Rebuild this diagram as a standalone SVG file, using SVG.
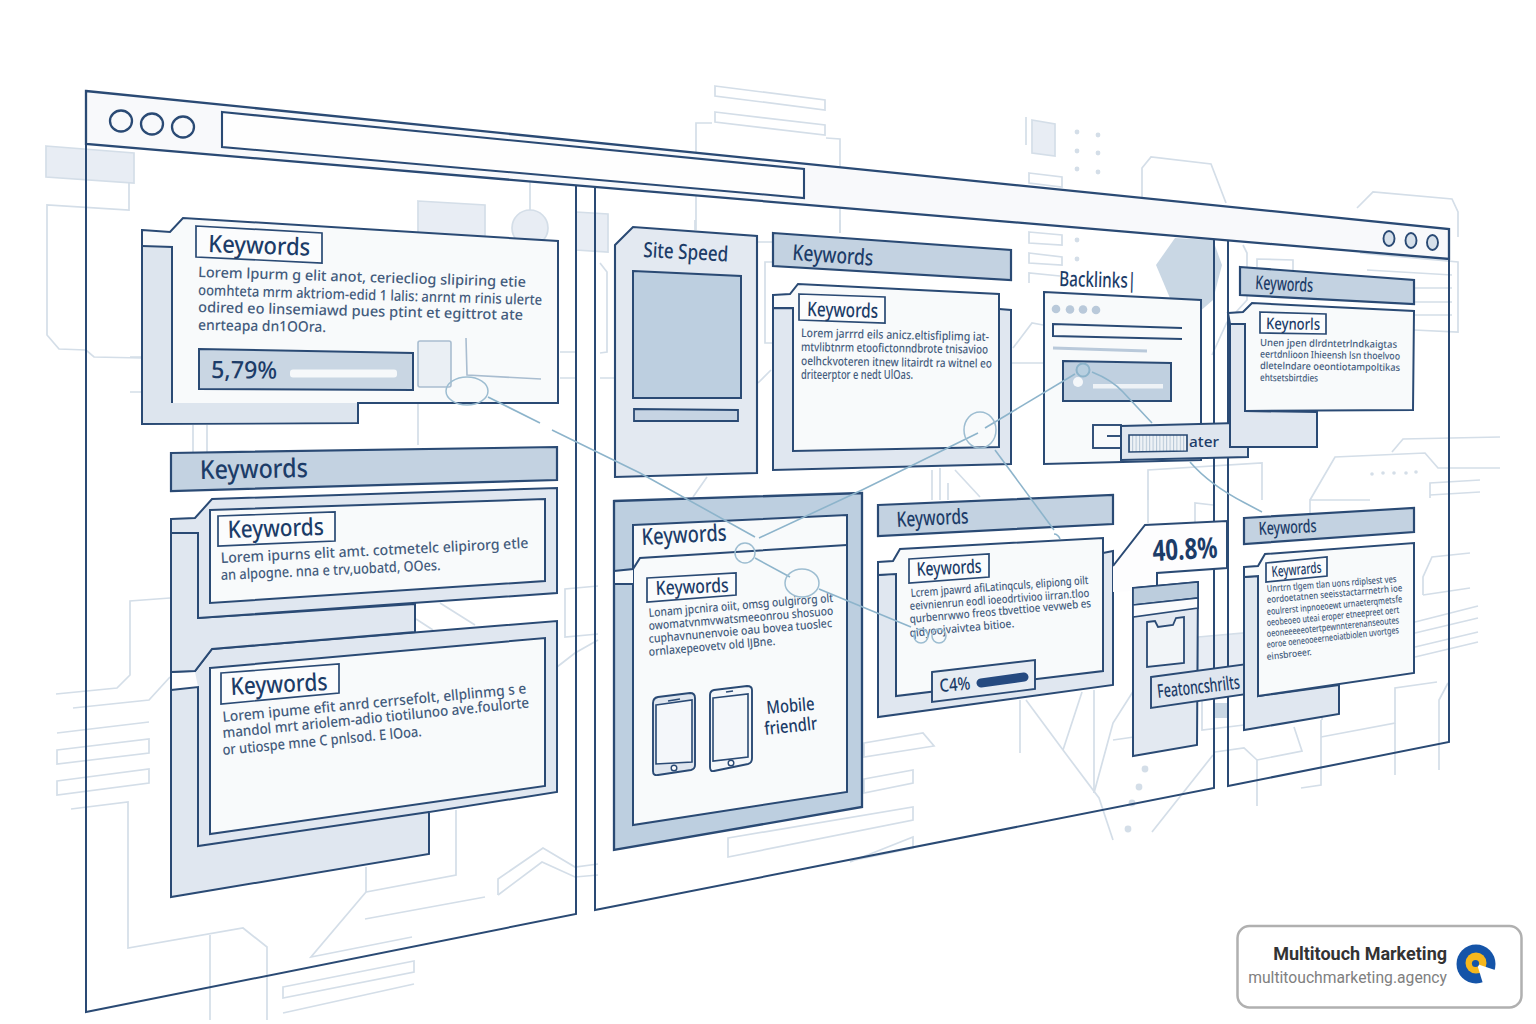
<svg xmlns="http://www.w3.org/2000/svg" width="1536" height="1024" viewBox="0 0 1536 1024">
<defs>
<style>
.bg{fill:none;stroke:#d4dee8;stroke-width:1.7}
.bgf{fill:#e8edf4;stroke:#d4dee8;stroke-width:1.7}
.bgd{fill:#d4dee8}
.ln{fill:none;stroke:#2a4a74;stroke-width:2;stroke-linejoin:miter}
.back{fill:#e0e7f0;stroke:#2a4a74;stroke-width:2}
.face{fill:#f8fafb;stroke:#2a4a74;stroke-width:2}
.hdr{fill:#c3d2e1;stroke:#2a4a74;stroke-width:2.2}
.box{fill:#fbfcfd;stroke:#2a4a74;stroke-width:1.7}
.conn{fill:none;stroke:#8db4cb;stroke-width:1.6}
.blob{fill:none;stroke:#9dbdd1;stroke-width:1.5}
.dot{fill:#b9c9da}
text{font-family:"Noto Sans","Open Sans","DejaVu Sans",sans-serif;fill:#1c3c68}
.k{font-weight:500}
.b{fill:#445c7d;font-weight:500}
</style>
<pattern id="hatch" width="3.4" height="8" patternUnits="userSpaceOnUse"><rect width="3.4" height="8" fill="#eef2f6"/><rect width="1" height="8" fill="#b5c6d6"/></pattern>
</defs>
<rect width="1536" height="1024" fill="#ffffff"/>

<g id="background">
<polygon class="bgf" points="46,146 134,153 134,183 46,177"/>
<polyline class="bg" points="129,183 129,210 47,205 47,335 59,349 86,350 94,357 142,358"/>
<polygon class="bgf" points="418,201 485,205 485,240 418,240"/>
<path class="bg" d="M530,182V210"/><circle class="bgf" cx="530" cy="228" r="18"/>
<polygon class="bgf" points="576,212 608,214 608,252 576,250"/>
<path class="bg" d="M130,357H142M130,392H142M193,425V453M207,425V452M418,403V445M560,352H576M560,378H576"/>
<polyline class="bg" points="170,598 130,601 130,675 117,688 56,694"/>
<polyline class="bg" points="170,677 149,700 73,708"/>
<path class="bg" d="M149,722 57,733"/>
<polygon class="bg" points="57,750 149,739 149,753 57,764"/>
<polygon class="bg" points="57,781 149,769 149,783 57,795"/>
<polyline class="bg" points="71,809 128,802 128,948 243,928 267,947 267,1020"/>
<path class="bg" d="M210,935V1020"/>
<polyline class="bg" points="456,810 456,875 366,892 366,867"/>
<polyline class="bg" points="366,892 311,957 412,937"/>
<path class="bg" d="M365,919 485,897"/>
<polygon class="bg" points="283,987 414,961 414,972 283,998"/>
<path class="bg" d="M283,1013 414,984"/>
<polyline class="bg" points="498,895 498,879 543,848 575,867 598,864"/>
<polyline class="bg" points="498,895 542,862 575,877 598,875"/>
<polyline class="bg" points="598,586 565,589 565,637 598,634"/>
<polyline class="bg" points="557,667 575,653 598,640"/>
<path class="bg" d="M440,603 475,625M416,619 433,630"/>
<polygon class="bg" points="715,86 825,100 825,110 715,96"/>
<polygon class="bg" points="715,112 825,125 825,135 715,122"/>
<polyline class="bg" points="712,123 696,123 696,230"/>
<polyline class="bg" points="826,138 840,139 840,233"/>
<polygon class="bgf" points="1032,120 1055,124 1055,156 1032,153"/>
<path class="bg" d="M1026,117V145"/>
<circle class="bgd" cx="1077" cy="132" r="2.4"/><circle class="bgd" cx="1098" cy="135" r="2.4"/><circle class="bgd" cx="1077" cy="151" r="2.4"/><circle class="bgd" cx="1098" cy="153" r="2.4"/><circle class="bgd" cx="1077" cy="169" r="2.4"/><circle class="bgd" cx="1098" cy="172" r="2.4"/><circle class="bgd" cx="1077" cy="240" r="2.4"/><circle class="bgd" cx="1077" cy="259" r="2.4"/>
<polygon class="bg" points="1029,173 1062,177 1062,187 1029,183"/>
<polygon class="bg" points="1029,232 1062,235 1062,245 1029,243"/>
<polygon class="bg" points="1029,253 1062,257 1062,265 1029,263"/>
<polyline class="bg" points="1029,283 1029,273 1060,276"/>
<polyline class="bg" points="1142,233 1142,168 1151,157 1211,164 1226,203"/>
<polygon fill="#c9d7e4" points="1156,265 1175,238 1213,240 1222,265 1213,300 1198,313 1175,310"/>
<polyline class="bg" points="1357,208 1373,192 1452,199 1458,212 1458,237"/>
<polyline class="bg" points="1360,253 1458,262 1458,332 1414,330"/>
<path class="bg" d="M1367,270 1452,275M1414,288H1452M1414,302H1452M1414,315H1452"/>
<polyline class="bg" points="1227,322 1212,355"/>
<polyline class="bg" points="1257,267 1257,259 1293,260 1293,270"/>
<polyline class="bg" points="1243,245 1247,253 1247,300 1227,322"/>
<polyline class="bg" points="600,263 607,272 607,352 600,353"/>
<path class="bg" d="M600,378H615M757,242H773M707,477 693,497M758,383 771,370M840,220V233M695,220V230M932,470V500M940,468V500M948,483V500M955,470 980,497M1012,363H1043"/>
<polyline class="bg" points="773,262 765,262 765,343 773,343"/>
<polyline class="bg" points="1013,348 1032,323 1043,325"/>
<polygon class="bg" points="864,743 923,733 934,746 864,757"/>
<polygon class="bg" points="864,779 913,770 913,783 864,793"/>
<polygon class="bg" points="728,838 913,807 913,820 728,857"/>
<polyline class="bg" points="850,862 913,837 913,848 855,860"/>
<path class="bg" d="M1026,700 1063,750 1099,798 1113,840M1020,700V753M1082,692 1063,750M1094,690V793M1113,740 1134,737M1213,755 1152,832"/>
<polyline class="bg" points="1134,690 1113,723 1094,793"/>
<circle class="bgd" cx="1145" cy="769" r="3.4"/><circle class="bgd" cx="1139" cy="787" r="3.4"/><circle class="bgd" cx="1132" cy="803" r="3.4"/><circle class="bgd" cx="1128" cy="829" r="3.4"/>
<polyline class="bg" points="1215,752 1244,748 1257,760 1257,806"/>
<polyline class="bg" points="1257,760 1302,751 1294,727"/>
<polygon class="bgf" points="1198,637 1244,633 1244,668 1198,680"/>
<polyline class="bg" points="1202,680 1202,730 1244,725"/>
<rect x="1213" y="703" width="14" height="15" fill="#c9d7e4"/>
<polyline class="bg" points="1301,788 1321,785 1321,720"/>
<polyline class="bg" points="1321,737 1395,723 1395,688 1437,682"/>
<path class="bg" d="M1395,723V775M1322,687V720"/>
<polyline class="bg" points="1439,770 1439,700 1448,683"/>
<polyline class="bg" points="1195,522 1195,503 1213,505"/>
<path class="bg" d="M1148,490V523"/>
<polyline class="bg" points="1148,500 1148,470 1262,463 1262,500"/>
<polyline class="bg" points="1310,500 1335,457 1425,453 1438,468 1500,468"/>
<polyline class="bg" points="1392,452 1403,439 1500,437"/>
<polyline class="bg" points="1310,540 1310,500 1370,500"/>
<polyline class="bg" points="1430,498 1430,483 1480,480"/>
<path class="bg" d="M1430,495 1480,492"/>
<circle class="bgd" cx="1372" cy="474" r="1.8"/><circle class="bgd" cx="1383" cy="473" r="1.8"/><circle class="bgd" cx="1394" cy="473" r="1.8"/><circle class="bgd" cx="1406" cy="473" r="1.8"/><circle class="bgd" cx="1416" cy="472" r="1.8"/>
<polyline class="bg" points="1423,595 1423,577 1432,557 1470,553"/>
<path class="bg" d="M1423,595 1470,588M1415,622 1478,606M1415,633 1478,618M1415,647 1478,632M1415,657 1478,642"/>
</g>

<g id="browser-window">
<polygon fill="#f8f9fb" stroke="#2a4a74" stroke-width="2.3" points="86,91 1449,229 1449,259 86,144"/>
<polygon fill="#fefefe" stroke="#2a4a74" stroke-width="2.1" points="222,112 804,169 804,198 222,147"/>
<ellipse cx="121" cy="121" rx="11" ry="10.5" fill="none" stroke="#2a4a74" stroke-width="2.3"/>
<ellipse cx="152" cy="124" rx="11" ry="10.5" fill="none" stroke="#2a4a74" stroke-width="2.3"/>
<ellipse cx="183" cy="127" rx="11" ry="10.5" fill="none" stroke="#2a4a74" stroke-width="2.3"/>
<ellipse cx="1389" cy="238.500" rx="5.500" ry="7.500" fill="#d6e0ea" stroke="#2a4a74" stroke-width="1.900"/>
<ellipse cx="1411" cy="240.500" rx="5.500" ry="7.500" fill="#d6e0ea" stroke="#2a4a74" stroke-width="1.900"/>
<ellipse cx="1432.500" cy="242.500" rx="5.500" ry="7.500" fill="#d6e0ea" stroke="#2a4a74" stroke-width="1.900"/>
<polyline class="ln" points="86,144 86,1012 576,914 576,185"/>
<polyline class="ln" points="595,186 595,910 1214,788 1214,239"/>
<polyline class="ln" points="1228,240 1228,786 1449,742 1449,229"/>
</g>

<g id="card-left-1">
<polygon class="face" points="142,230 170,232 183,218 558,241 558,403 358,403 358,423 142,424"/>
<polygon fill="#dde5ee" points="143,247 172,248 172,403 357,403 357,422 143,423"/>
<polyline class="ln" points="142,246 172,247 172,403"/>
<polygon class="box" points="196,226 322,233 322,263 196,257"/>
<text class="k" transform="translate(208,252) rotate(2)" font-size="24" textLength="102" lengthAdjust="spacingAndGlyphs">Keywords</text>
<text class="b" transform="translate(198,277) rotate(1.75)" font-size="14.500" textLength="328" lengthAdjust="spacingAndGlyphs">Lorem lpurm g elit anot, ceriecliog slipiring etie</text>
<text class="b" transform="translate(198,295) rotate(1.66)" font-size="14.500" textLength="344" lengthAdjust="spacingAndGlyphs">oomhteta mrm aktriom-edid 1 lalis: anrnt m rinis ulerte</text>
<text class="b" transform="translate(198,312) rotate(1.4)" font-size="14.500" textLength="325" lengthAdjust="spacingAndGlyphs">odired eo linsemiawd pues ptint et egittrot ate</text>
<text class="b" transform="translate(198,330) rotate(.9)" font-size="14.500" textLength="128" lengthAdjust="spacingAndGlyphs">enrteapa dn1OOra.</text>
<polygon fill="#c9d6e3" stroke="#2a4a74" stroke-width="2" points="199,349 413,353 413,390 199,389"/>
<text class="k" transform="translate(211,378) rotate(.5)" font-size="24" textLength="66" lengthAdjust="spacingAndGlyphs">5,79%</text>
<rect x="290" y="369.500" width="107" height="8" rx="3" fill="#f6f8fa"/>
<rect x="418" y="341" width="33" height="46" rx="2" fill="#eaeff4" stroke="#a9bdd0" stroke-width="1.600"/>
<polyline fill="none" stroke="#a9bdd0" stroke-width="1.600" points="466,338 467,375 541,379"/>
</g>

<g id="panel-left-header">
<polygon class="hdr" points="171,453 557,447 557,480 171,491"/>
<text class="k" transform="translate(200,479) rotate(-1)" font-size="26" textLength="108" lengthAdjust="spacingAndGlyphs">Keywords</text>
</g>

<g id="card-left-3">
<polygon class="back" points="171,672 195,671 212,649 557,621 557,792 429,812 429,854 171,897"/>
<polygon fill="#fdfdfe" points="172,673 195,672 198,687 172,690"/>
<polyline class="ln" points="171,690 198,687 198,846 429,812"/>
<polygon class="face" points="210,668 545,638 545,786 210,834"/>
<polygon class="box" points="221,673 339,664 339,693 221,704"/>
<text class="k" transform="translate(231,695) rotate(-3)" font-size="24" textLength="97" lengthAdjust="spacingAndGlyphs">Keywords</text>
<text class="b" transform="translate(223,722) rotate(-5.4)" font-size="14.500" textLength="305" lengthAdjust="spacingAndGlyphs">Lorem ipume efit anrd cerrsefolt, ellplinmg s e</text>
<text class="b" transform="translate(223,738) rotate(-5.7)" font-size="14.500" textLength="308" lengthAdjust="spacingAndGlyphs">mandol mrt ariolem-adio tiotilunoo ave.foulorte</text>
<text class="b" transform="translate(223,755) rotate(-5.4)" font-size="14.500" textLength="200" lengthAdjust="spacingAndGlyphs">or utiospe mne C pnlsod. E lOoa.</text>
</g>

<g id="card-left-2">
<polygon fill="#e0e7f0" stroke="#2a4a74" stroke-width="2" points="171,533 198,533 198,618 415,604 415,632 212,649 195,671 171,672"/>
<polygon class="back" points="171,519 195,518 212,499 557,488 557,593 198,618 198,533 171,533"/>
<polygon class="face" points="210,510 545,499 545,581 210,603"/>
<polygon class="box" points="218,516 335,512 335,541 218,546"/>
<text class="k" transform="translate(228,538) rotate(-1.8)" font-size="24" textLength="96" lengthAdjust="spacingAndGlyphs">Keywords</text>
<text class="b" transform="translate(221,563) rotate(-2.8)" font-size="14.500" textLength="308" lengthAdjust="spacingAndGlyphs">Lorem ipurns elit amt. cotmetelc elipirorg etle</text>
<text class="b" transform="translate(221,580) rotate(-2.6)" font-size="14.500" textLength="220" lengthAdjust="spacingAndGlyphs">an alpogne. nna e trv,uobatd, OOes.</text>
</g>

<g id="card-site-speed">
<polygon fill="#e3e9f1" stroke="#2a4a74" stroke-width="2.100" points="615,245 633,227 757,236 757,473 615,477"/>
<text class="k" transform="translate(643,257) rotate(3)" font-size="21" textLength="85" lengthAdjust="spacingAndGlyphs">Site Speed</text>
<polygon fill="#bdcfe0" stroke="#2a4a74" stroke-width="2" points="633,271 741,276 741,398 633,398"/>
<polygon fill="#c6d4e3" stroke="#2a4a74" stroke-width="1.800" points="634,409 738,410 738,421 634,421"/>
</g>

<g id="header-keywords-2">
<polygon class="hdr" points="773,233 1011,250 1011,280 773,266"/>
<text class="k" transform="translate(792,260) rotate(4)" font-size="22" textLength="81" lengthAdjust="spacingAndGlyphs">Keywords</text>
</g>

<g id="card-keywords-2">
<polygon class="back" points="773,308 999,309 1011,310 1011,464 773,470"/>
<polygon class="face" points="773,295 790,294 798,284 999,294 999,447 793,451 793,308 773,308"/>
<polygon class="box" points="799,294 885,297 885,323 799,320"/>
<text class="k" transform="translate(807,316) rotate(1.5)" font-size="20" textLength="71" lengthAdjust="spacingAndGlyphs">Keywords</text>
<text class="b" transform="translate(801,337) rotate(1.2)" font-size="12" textLength="188" lengthAdjust="spacingAndGlyphs">Lorem jarrrd eils anicz.eltisfiplimg iat-</text>
<text class="b" transform="translate(801,351) rotate(.8)" font-size="12" textLength="187" lengthAdjust="spacingAndGlyphs">mtvlibtnrm etoofictonndbrote tnisavioo</text>
<text class="b" transform="translate(801,365) rotate(.8)" font-size="12" textLength="191" lengthAdjust="spacingAndGlyphs">oelhckvoteren itnew litairdt ra witnel eo</text>
<text class="b" transform="translate(801,379)" font-size="12" textLength="112" lengthAdjust="spacingAndGlyphs">driteerptor e nedt UlOas.</text>
</g>

<g id="card-backlinks">
<text class="k" transform="translate(1059,286) rotate(1.5)" font-size="21" textLength="77" lengthAdjust="spacingAndGlyphs">Backlinks|</text>
<polygon class="face" points="1044,292 1201,300 1201,460 1044,464"/>
<circle class="dot" cx="1056" cy="309" r="4.300"/><circle class="dot" cx="1070" cy="309.500" r="4.300"/><circle class="dot" cx="1083" cy="309.500" r="4.300"/><circle class="dot" cx="1096" cy="310" r="4.300"/>
<polyline class="ln" stroke-width="1.800" points="1182,328 1053,324 1053,336 1182,339"/>
<path d="M1053,348 1147,351" stroke="#b9c9da" stroke-width="3" fill="none"/>
<polygon fill="#c0d0e0" stroke="#2a4a74" stroke-width="2" points="1063,361 1171,363 1171,401 1063,401"/>
<rect x="1093" y="384" width="70" height="4.500" fill="#eef2f6"/>
<circle cx="1078" cy="382" r="5" fill="#f4f7fa"/>
<rect x="1093" y="425" width="28" height="23" fill="#f8fafb" stroke="#2a4a74" stroke-width="1.900"/>
<path d="M1107,436H1121" stroke="#2a4a74" stroke-width="1.900"/>
<polygon fill="#dfe6ef" stroke="#2a4a74" stroke-width="2" points="1121,426 1237,423 1237,437 1248,437 1248,457 1121,460"/>
<rect x="1237" y="437" width="11" height="10" fill="#f8fafb" stroke="#2a4a74" stroke-width="1.700"/>
<polygon fill="url(#hatch)" stroke="#2a4a74" stroke-width="1.700" points="1129,435 1187,435 1187,451 1129,452"/>
<text class="k" transform="translate(1189,447)" font-size="15" textLength="30" lengthAdjust="spacingAndGlyphs">ater</text>
</g>

<g id="header-keywords-right">
<polygon class="hdr" points="1240,267 1414,280 1414,304 1240,295"/>
<text class="k" transform="translate(1255,289) rotate(3)" font-size="19" textLength="58" lengthAdjust="spacingAndGlyphs">Keywords</text>
</g>

<g id="card-keywords-right">
<polygon class="back" points="1230,324 1245,324 1245,411 1317,412 1317,447 1230,447"/>
<polygon class="face" points="1228,313 1243,312 1252,303 1414,311 1413,410 1245,411 1245,324 1230,324"/>
<polygon class="box" points="1260,312 1326,314 1326,334 1260,333"/>
<text class="k" transform="translate(1266,329) rotate(1)" font-size="16" textLength="54" lengthAdjust="spacingAndGlyphs">Keynorls</text>
<text class="b" transform="translate(1260,346) rotate(.8)" font-size="10" textLength="137" lengthAdjust="spacingAndGlyphs">Unen jpen dlrdntetrlndkaigtas</text>
<text class="b" transform="translate(1260,357.500) rotate(.8)" font-size="10" textLength="140" lengthAdjust="spacingAndGlyphs">eertdnlioon Ihieensh lsn thoelvoo</text>
<text class="b" transform="translate(1260,369) rotate(.8)" font-size="10" textLength="140" lengthAdjust="spacingAndGlyphs">dletelndare oeontiotampoltikas</text>
<text class="b" transform="translate(1260,381) rotate(.6)" font-size="10" textLength="58" lengthAdjust="spacingAndGlyphs">ehtsetsbirtdies</text>
</g>

<g id="card-mobile">
<polygon fill="#bdcfe0" stroke="#2a4a74" stroke-width="2.300" points="614,501 862,493 862,807 614,850"/>
<polygon class="face" points="633,525 847,515 847,792 633,825"/>
<polygon fill="#f8fafb" points="615,571 633,570 633,583 615,583"/>
<polyline class="ln" points="614,571 633,569 640,558 847,545"/>
<path class="ln" d="M614,584H633"/>
<text class="k" transform="translate(642,545) rotate(-3)" font-size="23" textLength="85" lengthAdjust="spacingAndGlyphs">Keywords</text>
<polygon class="box" points="647,578 736,573 736,595 647,602"/>
<text class="k" transform="translate(656,595) rotate(-2.5)" font-size="19.500" textLength="73" lengthAdjust="spacingAndGlyphs">Keywords</text>
<text class="b" transform="translate(649,617) rotate(-4.7)" font-size="12" textLength="185" lengthAdjust="spacingAndGlyphs">Lonam jpcnira oiit, omsg oulgirorg olt</text>
<text class="b" transform="translate(649,630) rotate(-4.7)" font-size="12" textLength="185" lengthAdjust="spacingAndGlyphs">owomatvnmvwatsmeeonrou shosuoo</text>
<text class="b" transform="translate(649,643) rotate(-5)" font-size="12" textLength="184" lengthAdjust="spacingAndGlyphs">cuphavnunenvoie oau bovea tuoslec</text>
<text class="b" transform="translate(649,656) rotate(-5)" font-size="12" textLength="127" lengthAdjust="spacingAndGlyphs">ornlaxepeovetv old lJBne.</text>
<g id="phone-1">
<path d="M653,703Q653,698 658,697L690,693Q695,693 695,698V765Q695,769 691,770L658,775Q653,776 653,771Z" fill="#dfe6ef" stroke="#2a4a74" stroke-width="1.900"/>
<polygon fill="#f4f7fa" stroke="#2a4a74" stroke-width="1.600" points="656,705 692,700 692,762 656,764"/>
<path d="M668,701 680,699" stroke="#2a4a74" stroke-width="1.700"/>
<circle cx="674" cy="768" r="2.800" fill="#fff" stroke="#2a4a74" stroke-width="1.400"/>
</g>
<g id="phone-2">
<path d="M710,695Q710,691 714,690L747,686Q752,686 752,690V758Q752,763 748,764L714,771Q710,772 710,767Z" fill="#f4f7fa" stroke="#2a4a74" stroke-width="1.900"/>
<polygon fill="#f4f7fa" stroke="#2a4a74" stroke-width="1.600" points="713,698 748,694 748,757 713,761"/>
<path d="M726,692 733,691" stroke="#2a4a74" stroke-width="1.700"/>
<circle cx="731" cy="763" r="2.800" fill="#fff" stroke="#2a4a74" stroke-width="1.400"/>
</g>
<text class="k" transform="translate(767,714) rotate(-5)" font-size="18" textLength="48" lengthAdjust="spacingAndGlyphs">Mobile</text>
<text class="k" transform="translate(765,735) rotate(-6)" font-size="18" textLength="53" lengthAdjust="spacingAndGlyphs">friendlr</text>
</g>

<g id="header-keywords-3">
<polygon class="hdr" points="878,505 1113,495 1113,524 878,536"/>
<text class="k" transform="translate(897,527) rotate(-3)" font-size="21" textLength="72" lengthAdjust="spacingAndGlyphs">Keywords</text>
</g>

<g id="card-keywords-3">
<polygon class="back" points="878,575 1103,553 1113,551 1113,685 878,717"/>
<polygon class="face" points="878,562 893,561 900,549 1103,538 1103,671 896,696 896,574 878,575"/>
<polygon class="box" points="909,559 989,554 989,577 909,583"/>
<text class="k" transform="translate(917,576) rotate(-3)" font-size="19" textLength="65" lengthAdjust="spacingAndGlyphs">Keywords</text>
<text class="b" transform="translate(911,597) rotate(-4.2)" font-size="11.500" textLength="178" lengthAdjust="spacingAndGlyphs">Lcrem jpawrd afiLatinqculs, elipiong oilt</text>
<text class="b" transform="translate(910,610) rotate(-4.2)" font-size="11.500" textLength="180" lengthAdjust="spacingAndGlyphs">eeivnienrun eodl ioeodrtivioo iirran.tloo</text>
<text class="b" transform="translate(910,623) rotate(-5)" font-size="11.500" textLength="182" lengthAdjust="spacingAndGlyphs">qurbenrwwo freos tbvettioe vevweb es</text>
<text class="b" transform="translate(910,637) rotate(-5.4)" font-size="11.500" textLength="105" lengthAdjust="spacingAndGlyphs">qidyoojvaivtea bitioe.</text>
<polygon fill="#e6ecf3" stroke="#2a4a74" stroke-width="1.900" points="932,672 1035,660 1035,689 932,702"/>
<text class="k" transform="translate(940,692) rotate(-5)" font-size="18" textLength="31" lengthAdjust="spacingAndGlyphs">C4%</text>
<path d="M981,683 1024,677" stroke="#254a80" stroke-width="9" stroke-linecap="round" fill="none"/>
</g>

<g id="card-features">
<polygon fill="#fdfdfe" points="1113,566 1145,525 1227,521 1227,568 1157,573 1157,590 1113,592"/>
<polyline class="ln" points="1113,566 1145,525 1227,521 1227,568 1157,573 1157,586"/>
<text transform="translate(1153,561) rotate(-3)" font-size="29" font-weight="700" textLength="65" lengthAdjust="spacingAndGlyphs">40.8%</text>
<polygon fill="#e3e9f1" stroke="#2a4a74" stroke-width="2" points="1133,588 1198,582 1197,745 1133,756"/>
<polygon fill="#bccddd" stroke="#2a4a74" stroke-width="1.700" points="1133,588 1198,582 1198,598 1133,605"/>
<polygon fill="#fafbfc" stroke="#2a4a74" stroke-width="1.700" points="1133,605 1198,598 1198,608 1133,617"/>
<polygon fill="#f2f5f8" stroke="#2a4a74" stroke-width="1.800" points="1147,622 1155,621 1158,627 1173,625 1176,618 1184,617 1184,663 1147,667"/>
<polygon fill="#dfe6ef" stroke="#2a4a74" stroke-width="1.900" points="1151,677 1247,664 1247,694 1151,708"/>
<text class="k" transform="translate(1158,698) rotate(-6.5)" font-size="19" textLength="83" lengthAdjust="spacingAndGlyphs">Featoncshrilts</text>
</g>

<g id="header-keywords-4">
<polygon class="hdr" points="1244,518 1414,508 1414,532 1244,544"/>
<text class="k" transform="translate(1259,535) rotate(-3)" font-size="18" textLength="58" lengthAdjust="spacingAndGlyphs">Keywords</text>
</g>

<g id="card-keywords-4">
<polygon class="back" points="1244,577 1258,576 1258,696 1339,685 1339,714 1244,730"/>
<polygon class="face" points="1244,567 1258,566 1265,554 1414,543 1414,673 1258,696 1258,576 1244,577"/>
<polygon class="box" points="1266,563 1327,557 1327,576 1266,582"/>
<text class="k" transform="translate(1272,577) rotate(-5)" font-size="15" textLength="50" lengthAdjust="spacingAndGlyphs">Keywrards</text>
<text class="b" transform="translate(1267,592) rotate(-4.4)" font-size="9.500" textLength="130" lengthAdjust="spacingAndGlyphs">Unrtrn tlgem tlan uons rdiplsest ves</text>
<text class="b" transform="translate(1267,603) rotate(-5)" font-size="9.500" textLength="136" lengthAdjust="spacingAndGlyphs">eordoetatnen seeisstactarrnetrh ioe</text>
<text class="b" transform="translate(1267,615) rotate(-5.4)" font-size="9.500" textLength="136" lengthAdjust="spacingAndGlyphs">eoulrerst inpnoeoewt urnaeterqmetsfe</text>
<text class="b" transform="translate(1267,626) rotate(-5.6)" font-size="9.500" textLength="133" lengthAdjust="spacingAndGlyphs">oeobeoeo uteai eroper etneepreet oert</text>
<text class="b" transform="translate(1267,637) rotate(-5.9)" font-size="9.500" textLength="133" lengthAdjust="spacingAndGlyphs">oeoneeeeeotertpewnnterenanseoutes</text>
<text class="b" transform="translate(1267,648) rotate(-6.4)" font-size="9.500" textLength="133" lengthAdjust="spacingAndGlyphs">eoroe oeneooeerneoiatbiolen uvortges</text>
<text class="b" transform="translate(1267,660) rotate(-6.4)" font-size="9.500" textLength="45" lengthAdjust="spacingAndGlyphs">einsbroeer.</text>
</g>

<g id="connectors">
<ellipse class="blob" cx="467" cy="391" rx="21" ry="14"/>
<polyline class="conn" points="488,397 540,423"/>
<polyline class="conn" points="552,430 640,473 755,537"/>
<polyline class="conn" points="759,538 862,490 978,433"/>
<polyline class="conn" points="985,428 1075,374"/>
<ellipse class="blob" cx="980" cy="430" rx="16" ry="18"/>
<polyline class="conn" points="995,450 1054,530"/>
<path class="conn" d="M1054,534Q1058,534 1060,539"/>
<path class="conn" d="M1092,372Q1112,380 1123,392L1152,423"/>
<path class="conn" d="M1190,462Q1210,485 1245,503L1262,512"/>
<circle cx="1083" cy="370" r="6.500" fill="#b8cfe0" stroke="#8db4cb" stroke-width="2"/>
<circle class="blob" cx="745" cy="553" r="10"/>
<polyline class="conn" points="755,558 790,577"/>
<ellipse class="blob" cx="802" cy="583" rx="17" ry="14"/>
<polyline class="conn" points="819,589 911,627"/>
<circle class="blob" cx="921" cy="636" r="7"/>
<circle class="blob" cx="939" cy="636" r="7"/>
</g>

<g id="badge">
<rect x="1237.500" y="926" width="284" height="81.500" rx="12" fill="#fff" stroke="#b0b0b0" stroke-width="2.500"/>
<text x="1447" y="960" text-anchor="end" style="font-family:Roboto,'Liberation Sans',sans-serif;fill:#333" font-size="18" font-weight="700">Multitouch Marketing</text>
<text x="1447" y="983" text-anchor="end" style="font-family:Roboto,'Liberation Sans',sans-serif;fill:#808080" font-size="15.700">multitouchmarketing.agency</text>
<circle cx="1476" cy="964" r="19.500" fill="#1554a8"/>
<circle cx="1476" cy="963" r="10.500" fill="#f7b71d"/>
<polygon fill="#fff" points="1477,964 1498,971 1498,988 1484,987"/>
<circle cx="1475.500" cy="963.500" r="3.600" fill="#1554a8"/>
</g>
</svg>
